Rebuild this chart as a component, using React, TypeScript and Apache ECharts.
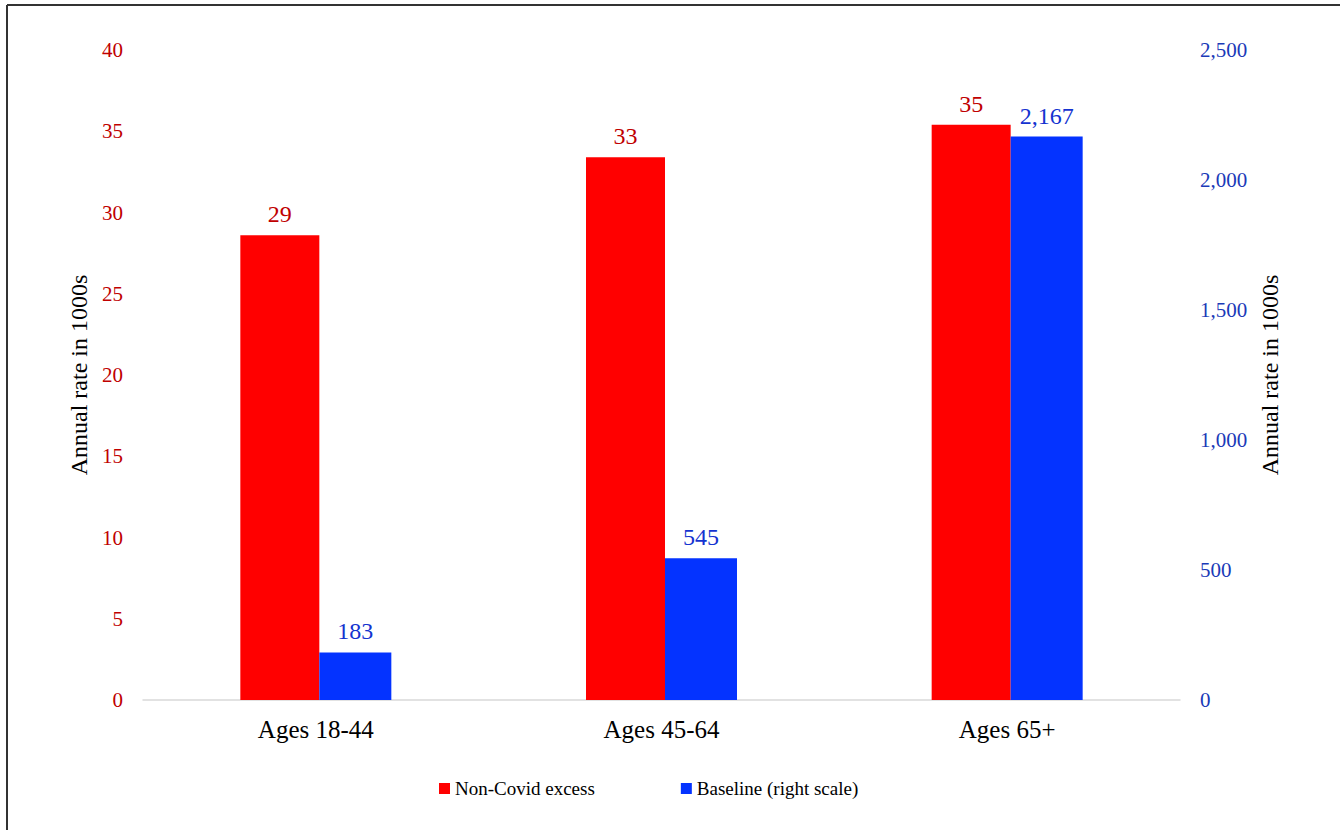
import React, { useEffect, useRef } from "react";
import * as echarts from "echarts";

const categories = ["Ages 18-44", "Ages 45-64", "Ages 65+"];
const nonCovidExcess = [28.6, 33.4, 35.4];
const baseline = [183, 545, 2167];
const seriesNames = ["Non-Covid excess", "Baseline (right scale)"];
const axisTitle = "Annual rate in 1000s";

const FONT = "'Liberation Serif', 'DejaVu Serif', serif";
const fmt = (v: number) => Math.round(v).toLocaleString("en-US");

export default function App() {
  const ref = useRef<HTMLDivElement>(null);
  useEffect(() => {
    if (!ref.current) return;
    const chart = echarts.init(ref.current, null, { renderer: "svg" });
    chart.setOption({
      animation: false,
      backgroundColor: "#ffffff",
      textStyle: { fontFamily: FONT },
      grid: { left: 143, right: 160, top: 50, bottom: 130 },
      legend: {
        left: 434,
        top: 774,
        itemWidth: 11,
        itemHeight: 11,
        itemGap: 86,
        icon: "rect",
        textStyle: { fontFamily: FONT, fontSize: 19, color: "#000" },
        data: seriesNames,
      },
      graphic: [
        { type: "line", shape: { x1: 7, y1: 5, x2: 1340, y2: 5 }, style: { stroke: "#333", lineWidth: 2 } },
        { type: "line", shape: { x1: 7, y1: 5, x2: 7, y2: 830 }, style: { stroke: "#333", lineWidth: 2 } },
      ],
      xAxis: {
        type: "category",
        data: categories,
        axisLine: { lineStyle: { color: "#d9d9d9", width: 1.5 } },
        axisTick: { show: false },
        axisLabel: { fontFamily: FONT, fontSize: 25, color: "#000", margin: 17 },
      },
      yAxis: [
        {
          type: "value",
          min: 0,
          max: 40,
          interval: 5,
          name: axisTitle,
          nameLocation: "middle",
          nameGap: 50,
          nameTextStyle: { fontFamily: FONT, fontSize: 24, color: "#000" },
          splitLine: { show: false },
          axisLine: { show: false },
          axisTick: { show: false },
          axisLabel: { fontFamily: FONT, fontSize: 21, color: "#C00000", margin: 20 },
        },
        {
          type: "value",
          min: 0,
          max: 2500,
          interval: 500,
          position: "right",
          name: axisTitle,
          nameLocation: "middle",
          nameGap: 74,
          nameTextStyle: { fontFamily: FONT, fontSize: 24, color: "#000" },
          splitLine: { show: false },
          axisLine: { show: false },
          axisTick: { show: false },
          axisLabel: {
            fontFamily: FONT,
            fontSize: 21,
            color: "#1A3AB8",
            margin: 20,
            formatter: (v: number) => fmt(v),
          },
        },
      ],
      series: [
        {
          name: seriesNames[0],
          type: "bar",
          yAxisIndex: 0,
          data: nonCovidExcess,
          barWidth: 79,
          barGap: "0%",
          itemStyle: { color: "#FF0000" },
          label: {
            show: true,
            position: "top",
            distance: 9,
            fontFamily: FONT,
            fontSize: 24,
            color: "#C00000",
            formatter: (p: any) => fmt(p.value),
          },
        },
        {
          name: seriesNames[1],
          type: "bar",
          yAxisIndex: 1,
          data: baseline,
          barWidth: 72,
          barGap: "0%",
          itemStyle: { color: "#0433FF" },
          label: {
            show: true,
            position: "top",
            distance: 9,
            fontFamily: FONT,
            fontSize: 24,
            color: "#1433D0",
            formatter: (p: any) => fmt(p.value),
          },
        },
      ],
    });
    return () => chart.dispose();
  }, []);
  return (
    <div
      ref={ref}
      style={{ position: "fixed", left: 0, top: 0, width: 1340, height: 830 }}
    />
  );
}
